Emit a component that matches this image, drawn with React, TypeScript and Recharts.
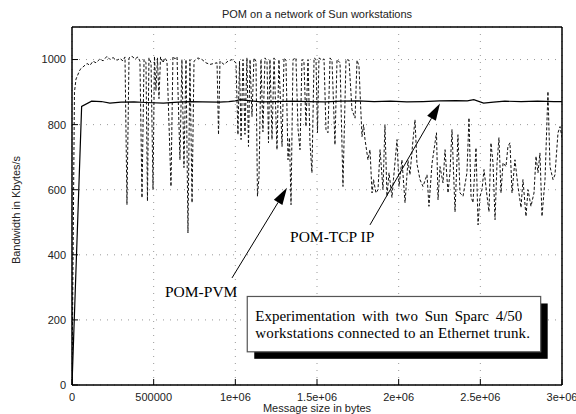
import React from 'react';
import {
  LineChart,
  Line,
  XAxis,
  YAxis,
  CartesianGrid,
  ReferenceLine,
  ReferenceDot,
  ReferenceArea,
} from 'recharts';

// ---- axes ----
const xTicks = [0, 500000, 1000000, 1500000, 2000000, 2500000, 3000000];
const xTickLabels = ['0', '500000', '1e+06', '1.5e+06', '2e+06', '2.5e+06', '3e+06'];
const yTicks = [0, 200, 400, 600, 800, 1000];

// ---- POM-TCP IP (solid) ----
const tcpX = [0, 59000, 120000, 180000, 232000, 300000, 380000, 450000, 560000, 650000, 720000, 800000, 900000, 960000, 1000000, 1030000, 1080000, 1150000, 1250000, 1350000, 1450000, 1550000, 1650000, 1750000, 1850000, 1950000, 2050000, 2150000, 2250000, 2350000, 2420000, 2460000, 2520000, 2580000, 2650000, 2750000, 2850000, 2950000, 3000000];
const tcpY = [0, 856, 872, 871, 866, 869, 870, 868, 866, 869, 871, 870, 869, 871, 873, 877, 874, 870, 871, 872, 871, 870, 872, 873, 871, 872, 870, 871, 873, 874, 873, 877, 866, 869, 872, 871, 872, 871, 871];

// ---- POM-PVM (dashed) ----
const pvmX = [0, 15000, 24500, 49000, 73500, 92000, 110000, 128500, 147000, 171000, 190000, 214000, 233000, 251000, 275500, 294000, 312000, 324500, 336500, 349000, 367000, 386000, 404000, 416000, 428500, 441000, 453000, 462000, 471000, 484000, 496000, 505000, 514000, 523500, 532500, 542000, 557000, 569000, 581500, 606000, 618000, 630500, 643000, 661000, 673000, 685500, 698000, 710000, 722000, 735000, 747000, 771000, 796000, 820000, 845000, 869000, 888000, 897000, 906000, 930500, 955000, 980000, 1004000, 1016000, 1025500, 1035000, 1047000, 1059000, 1071000, 1080500, 1090000, 1102000, 1114000, 1126500, 1135500, 1145000, 1157000, 1169000, 1181500, 1194000, 1203000, 1212000, 1224500, 1237000, 1255000, 1267000, 1286000, 1298000, 1310000, 1322500, 1331500, 1341000, 1353000, 1371000, 1384000, 1396000, 1408000, 1420000, 1432500, 1445000, 1457000, 1469000, 1482000, 1494000, 1503000, 1512000, 1531000, 1543000, 1555000, 1567000, 1580000, 1592000, 1610000, 1622500, 1641000, 1659000, 1677500, 1696000, 1714000, 1733000, 1745000, 1757000, 1766000, 1775500, 1785000, 1794000, 1812000, 1824500, 1837000, 1846000, 1861000, 1873500, 1886000, 1904000, 1916000, 1928500, 1941000, 1959000, 1968000, 1990000, 2002000, 2020000, 2039000, 2057000, 2069000, 2088000, 2100000, 2112000, 2130500, 2149000, 2173500, 2185500, 2204000, 2222500, 2231500, 2241000, 2253000, 2271500, 2284000, 2302000, 2314000, 2326500, 2345000, 2363000, 2375500, 2394000, 2418000, 2430500, 2443000, 2455000, 2473500, 2486000, 2498000, 2510000, 2522500, 2541000, 2553000, 2565000, 2577500, 2590000, 2602000, 2614000, 2626500, 2639000, 2657000, 2669000, 2681500, 2694000, 2712000, 2730500, 2749000, 2761000, 2779500, 2792000, 2810000, 2828500, 2841000, 2853000, 2865000, 2877500, 2896000, 2914000, 2926500, 2945000, 2957000, 2975500, 2988000, 3000000];
const pvmY = [0, 900, 940, 969, 980, 988, 982, 995, 990, 1002, 996, 1010, 1000, 1006, 998, 1003, 996, 1008, 554, 1005, 1010, 1002, 1008, 995, 575, 1000, 990, 565, 1005, 990, 600, 1010, 905, 1005, 880, 1008, 990, 1005, 995, 610, 1010, 1002, 1008, 692, 1000, 668, 1000, 467, 1000, 560, 995, 1005, 1000, 990, 985, 988, 990, 769, 995, 985, 995, 1000, 990, 769, 995, 754, 1000, 770, 1005, 733, 1000, 825, 1005, 995, 580, 640, 1000, 778, 1005, 995, 744, 1000, 754, 1005, 723, 1000, 733, 1005, 998, 692, 760, 554, 1000, 1005, 785, 723, 1000, 995, 794, 1000, 745, 652, 1005, 1000, 775, 1005, 998, 1002, 785, 775, 1005, 995, 738, 1000, 990, 610, 1000, 998, 846, 820, 998, 980, 870, 763, 800, 754, 692, 723, 590, 631, 590, 600, 723, 600, 800, 580, 652, 576, 631, 754, 610, 692, 560, 690, 646, 754, 815, 680, 631, 610, 646, 549, 680, 744, 775, 569, 671, 621, 723, 590, 652, 785, 532, 769, 590, 580, 652, 821, 580, 560, 729, 492, 580, 600, 662, 580, 532, 744, 683, 508, 680, 760, 590, 683, 671, 733, 744, 590, 692, 610, 545, 631, 518, 600, 549, 590, 703, 652, 713, 518, 631, 902, 671, 631, 646, 775, 794, 760];

// ---- texts ----
const titleText = 'POM on a network of Sun workstations';
const xLabelText = 'Message size in bytes';
const yLabelText = 'Bandwidth in Kbytes/s';
const pvmLabel = 'POM-PVM';
const tcpLabel = 'POM-TCP IP';
const noteLines = [
  'Experimentation with two Sun Sparc 4/50',
  'workstations connected to an Ethernet trunk.',
];

// annotation anchors (data space)
const pvmArrow = [{ x: 979600, y: 329 }, { x: 1316300, y: 606 }];
const tcpArrow = [{ x: 1824400, y: 492 }, { x: 2253000, y: 865 }];
const pvmLabelAt = { x: 569400, y: 271 };
const tcpLabelAt = { x: 1335000, y: 440 };
const noteBox = { x1: 1073000, x2: 2869500, y1: 102, y2: 272 };

const tcpData = tcpX.map((x, i) => ({ x, y: tcpY[i] }));
const pvmData = pvmX.map((x, i) => ({ x, y: pvmY[i] }));

const sans = '"Liberation Sans", Arial, Helvetica, sans-serif';
const serif = '"Liberation Serif", "Times New Roman", serif';

const arrowShape = (props: any) => {
  const { x1, y1, x2, y2 } = props;
  const dx = x2 - x1;
  const dy = y2 - y1;
  const len = Math.hypot(dx, dy) || 1;
  const ux = dx / len;
  const uy = dy / len;
  const hl = 17;
  const hw = 5;
  const bx = x2 - ux * hl;
  const by = y2 - uy * hl;
  const p1 = `${bx - uy * hw},${by + ux * hw}`;
  const p2 = `${bx + uy * hw},${by - ux * hw}`;
  return (
    <g>
      <line x1={x1} y1={y1} x2={bx} y2={by} stroke="#000" strokeWidth={1} />
      <polygon points={`${x2},${y2} ${p1} ${p2}`} fill="#000" />
    </g>
  );
};

const textShape = (label: string) => (props: any) => (
  <text x={props.cx} y={props.cy} fontFamily={serif} fontSize={15.5} fill="#000">
    {label}
  </text>
);

const boxShape = (props: any) => {
  const { x, y, width, height } = props;
  return (
    <g>
      <rect x={x + 7} y={y + 7} width={width} height={height} fill="#000" />
      <rect x={x} y={y} width={width} height={height} fill="#fff" stroke="#555" strokeWidth={1.2} />
      <text x={x + 8} y={y + 25} fontFamily={serif} fontSize={15} fill="#000" wordSpacing={3}>
        {noteLines[0]}
      </text>
      <text x={x + 8} y={y + 42} fontFamily={serif} fontSize={15} fill="#000" letterSpacing={0.15}>
        {noteLines[1]}
      </text>
    </g>
  );
};

const NoTick = () => <g />;

export default function App() {
  return (
    <div style={{ position: 'absolute', left: 0, top: 0, width: 576, height: 414, background: '#fff' }}>
      <LineChart width={576} height={414} margin={{ top: 26, right: 0, bottom: 0, left: 0 }}>
        <CartesianGrid stroke="#999" strokeDasharray="1 6" />
        <XAxis
          type="number"
          dataKey="x"
          domain={[0, 3000000]}
          ticks={xTicks}
          tickFormatter={(v: number) => xTickLabels[xTicks.indexOf(v)] ?? String(v)}
          height={29}
          tickSize={-6}
          tickMargin={14}
          interval={0}
          axisLine={{ stroke: '#000', strokeWidth: 1.5 }}
          tickLine={{ stroke: '#000' }}
          tick={{ fontSize: 11, fill: '#222', fontFamily: sans }}
          allowDataOverflow
        />
        <XAxis
          xAxisId="top"
          orientation="top"
          type="number"
          dataKey="x"
          domain={[0, 3000000]}
          ticks={xTicks}
          height={1}
          tickSize={-6}
          interval={0}
          axisLine={{ stroke: '#000', strokeWidth: 1.5 }}
          tickLine={{ stroke: '#000' }}
          tick={NoTick}
        />
        <YAxis
          type="number"
          domain={[0, 1100]}
          ticks={yTicks}
          width={72}
          tickSize={-6}
          tickMargin={12}
          interval={0}
          axisLine={{ stroke: '#000', strokeWidth: 1.5 }}
          tickLine={{ stroke: '#000' }}
          tick={{ fontSize: 11, fill: '#222', fontFamily: sans }}
          allowDataOverflow
        />
        <YAxis
          yAxisId="right"
          orientation="right"
          type="number"
          domain={[0, 1100]}
          ticks={yTicks}
          width={14}
          tickSize={-6}
          interval={0}
          axisLine={{ stroke: '#000', strokeWidth: 1.5 }}
          tickLine={{ stroke: '#000' }}
          tick={NoTick}
        />
        <Line
          data={pvmData}
          dataKey="y"
          type="linear"
          stroke="#111"
          strokeWidth={1}
          strokeDasharray="3 2"
          dot={false}
          activeDot={false}
          isAnimationActive={false}
        />
        <Line
          data={tcpData}
          dataKey="y"
          type="linear"
          stroke="#000"
          strokeWidth={1.2}
          dot={false}
          activeDot={false}
          isAnimationActive={false}
        />
        <ReferenceLine segment={pvmArrow} shape={arrowShape} ifOverflow="visible" />
        <ReferenceLine segment={tcpArrow} shape={arrowShape} ifOverflow="visible" />
        <ReferenceDot x={pvmLabelAt.x} y={pvmLabelAt.y} r={1} shape={textShape(pvmLabel)} ifOverflow="visible" />
        <ReferenceDot x={tcpLabelAt.x} y={tcpLabelAt.y} r={1} shape={textShape(tcpLabel)} ifOverflow="visible" />
        <ReferenceArea
          x1={noteBox.x1}
          x2={noteBox.x2}
          y1={noteBox.y1}
          y2={noteBox.y2}
          shape={boxShape}
          ifOverflow="visible"
        />
        <text x={317} y={18} textAnchor="middle" fontFamily={sans} fontSize={11} fill="#222">
          {titleText}
        </text>
        <text x={317} y={412} textAnchor="middle" fontFamily={sans} fontSize={11} fill="#222">
          {xLabelText}
        </text>
        <text
          x={20}
          y={210}
          textAnchor="middle"
          fontFamily={sans}
          fontSize={11}
          fill="#222"
          transform="rotate(-90 20 210)"
        >
          {yLabelText}
        </text>
      </LineChart>
    </div>
  );
}
